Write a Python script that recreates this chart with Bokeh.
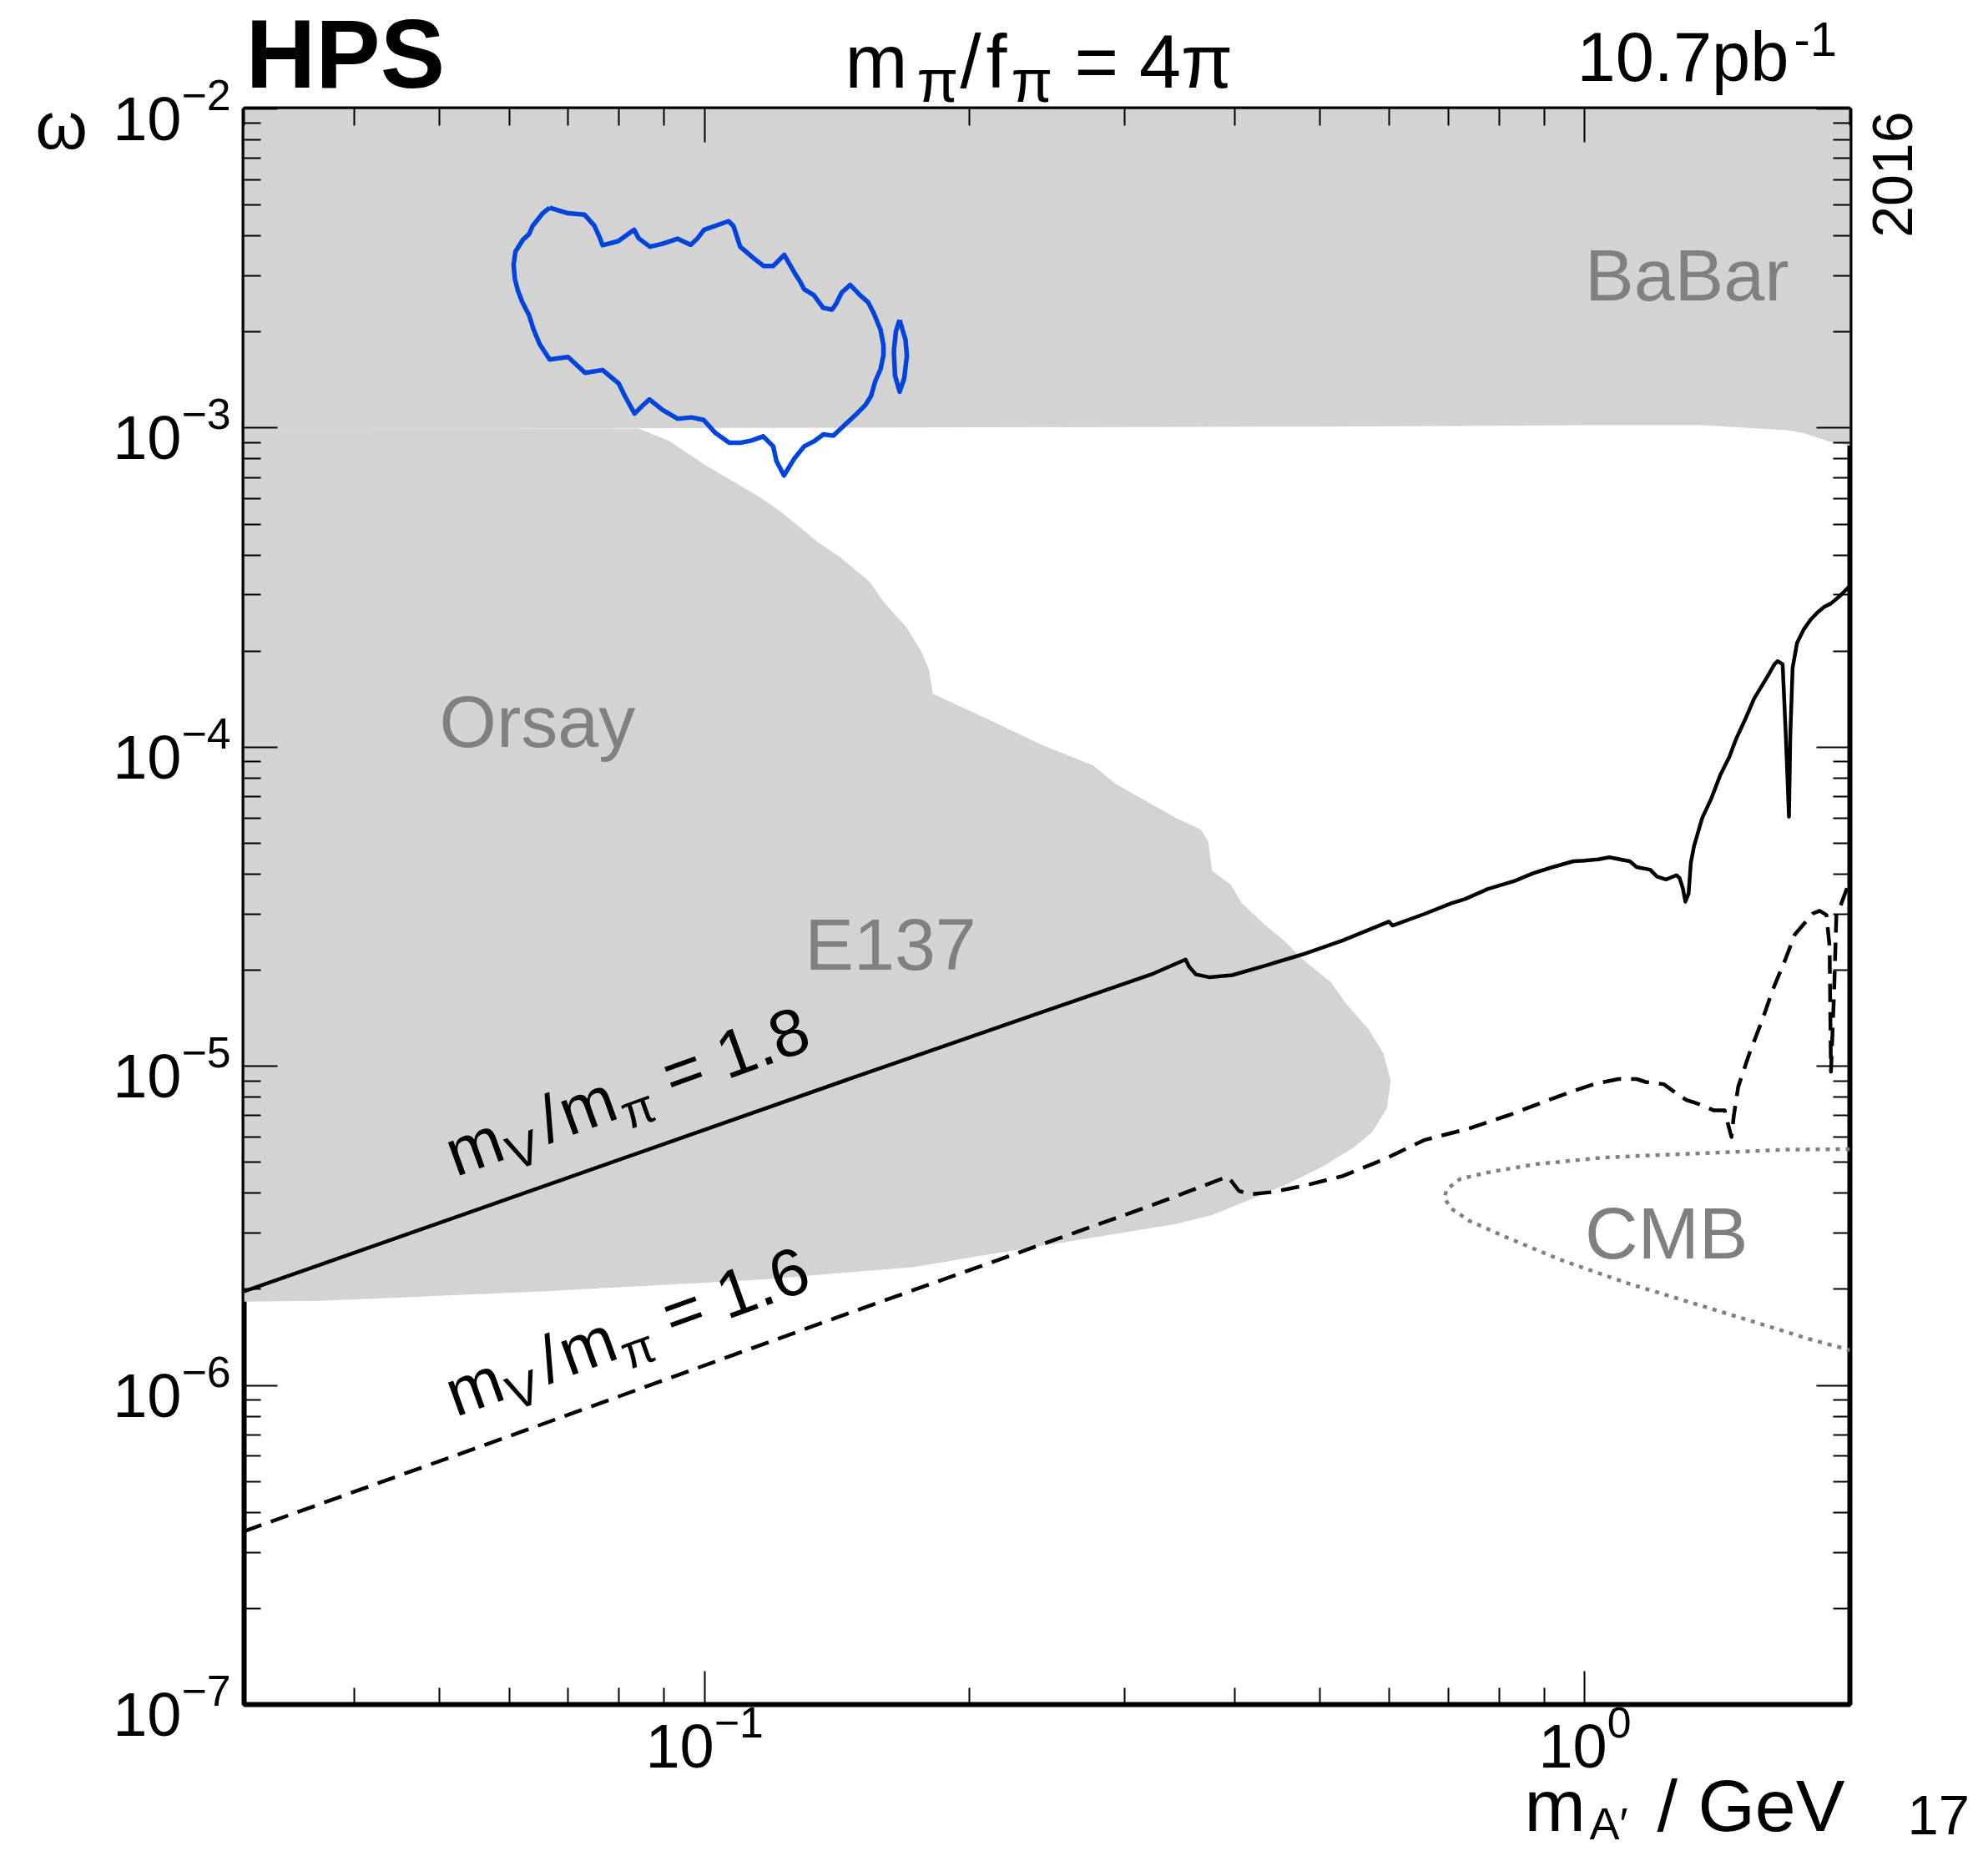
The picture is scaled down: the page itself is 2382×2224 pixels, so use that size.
import math
from bokeh.plotting import figure
from bokeh.models import Range1d, LogAxis, FixedTicker, Label, CustomJSTickFormatter
from bokeh.core.properties import value
from bokeh.embed import file_html
from bokeh.resources import INLINE

FONT = "Liberation Sans"

# ---------------- data ----------------
x_range = (0.03, 2.0)
y_range = (1e-7, 1e-2)
x_major_ticks = [0.1, 1.0]
y_major_ticks = [1e-7, 1e-6, 1e-5, 1e-4, 1e-3, 1e-2]

# BaBar excluded region (lower edge; top closes at y = 1e-2)
babar_x = [0.03, 0.0842, 0.5, 1.0, 1.36, 1.70, 1.77, 1.89, 2.0]
babar_y = [1.0e-3, 1.0e-3, 1.01e-3, 1.02e-3, 1.02e-3, 9.84e-4, 9.65e-4, 9.09e-4, 8.8e-4]

# Orsay + E137 excluded region (outline)
orsay_e137_x = [0.03, 0.0842, 0.0911, 0.1003, 0.1150, 0.1219, 0.1344, 0.1425, 0.1540,
                0.1601, 0.1697, 0.1764, 0.1800, 0.1817, 0.2103, 0.2410, 0.2762, 0.2928,
                0.3421, 0.3663, 0.3736, 0.3772, 0.3960, 0.4076, 0.4321, 0.4581, 0.4764,
                0.5150, 0.5355, 0.5675, 0.5902, 0.6018, 0.5960, 0.5731, 0.5460, 0.5050,
                0.4581, 0.4076, 0.3772, 0.3421, 0.2816, 0.2103, 0.1731, 0.1173, 0.0654,
                0.0365, 0.03]
orsay_e137_y = [1.0e-3, 9.96e-4, 9.12e-4, 7.64e-4, 6.13e-4, 5.49e-4, 4.40e-4, 3.94e-4, 3.30e-4,
                2.83e-4, 2.37e-4, 1.99e-4, 1.74e-4, 1.47e-4, 1.22e-4, 1.02e-4, 8.78e-5, 7.69e-5,
                6.03e-5, 5.52e-5, 5.05e-5, 4.09e-5, 3.71e-5, 3.25e-5, 2.79e-5, 2.44e-5, 2.18e-5,
                1.83e-5, 1.57e-5, 1.31e-5, 1.10e-5, 9.03e-6, 7.40e-6, 6.21e-6, 5.56e-6, 4.87e-6,
                4.26e-6, 3.73e-6, 3.42e-6, 3.20e-6, 2.93e-6, 2.57e-6, 2.35e-6, 2.15e-6, 1.97e-6,
                1.84e-6, 1.83e-6]

# HPS 2016 contour (blue)
hps_x = [0.0667, 0.0700, 0.0731, 0.0750, 0.0761, 0.0766, 0.0798, 0.0832, 0.0842, 0.0867,
         0.0896, 0.0932, 0.0965, 0.0982, 0.0999, 0.1065, 0.1079, 0.1098, 0.1135, 0.1167,
         0.1197, 0.1232, 0.1266, 0.1284, 0.1298, 0.1331, 0.1364, 0.1396, 0.1411, 0.1432,
         0.1464, 0.1502, 0.1534, 0.1557, 0.1585, 0.1597, 0.1597, 0.1585, 0.1563, 0.1546,
         0.1523, 0.1485, 0.1442, 0.1401, 0.1365, 0.1331, 0.1298, 0.1266, 0.1231, 0.1207,
         0.1197, 0.1166, 0.1131, 0.1098, 0.1067, 0.1029, 0.0998, 0.0967, 0.0932, 0.0896,
         0.0866, 0.0849, 0.0833, 0.0812, 0.0799, 0.0766, 0.0732, 0.0700, 0.0667, 0.0650,
         0.0639, 0.0632, 0.0621, 0.0614, 0.0609, 0.0607, 0.0610, 0.0622, 0.0632, 0.0638,
         0.0655, 0.0667]
hps_y = [4.90e-3, 4.71e-3, 4.66e-3, 4.30e-3, 3.93e-3, 3.74e-3, 3.85e-3, 4.18e-3, 3.93e-3, 3.70e-3,
         3.78e-3, 3.92e-3, 3.75e-3, 3.93e-3, 4.18e-3, 4.45e-3, 4.29e-3, 3.70e-3, 3.42e-3, 3.22e-3,
         3.22e-3, 3.49e-3, 3.06e-3, 2.88e-3, 2.72e-3, 2.61e-3, 2.38e-3, 2.35e-3, 2.45e-3, 2.66e-3,
         2.81e-3, 2.61e-3, 2.48e-3, 2.29e-3, 2.03e-3, 1.82e-3, 1.69e-3, 1.53e-3, 1.40e-3, 1.26e-3,
         1.18e-3, 1.10e-3, 1.02e-3, 9.46e-4, 9.55e-4, 9.08e-4, 8.76e-4, 8.05e-4, 7.10e-4, 7.89e-4,
         8.76e-4, 9.42e-4, 9.14e-4, 8.99e-4, 8.99e-4, 9.65e-4, 1.06e-3, 1.08e-3, 1.07e-3, 1.14e-3,
         1.23e-3, 1.17e-3, 1.11e-3, 1.26e-3, 1.38e-3, 1.52e-3, 1.49e-3, 1.67e-3, 1.64e-3, 1.83e-3,
         2.05e-3, 2.26e-3, 2.48e-3, 2.69e-3, 2.94e-3, 3.25e-3, 3.57e-3, 3.89e-3, 4.05e-3, 4.30e-3,
         4.71e-3, 4.90e-3]
hps_island_x = [0.1666, 0.1692, 0.1698, 0.1686, 0.1666, 0.1646, 0.1641, 0.1650, 0.1666]
hps_island_y = [2.18e-3, 1.89e-3, 1.68e-3, 1.43e-3, 1.30e-3, 1.46e-3, 1.74e-3, 2.01e-3, 2.18e-3]

# reach curve m_V/m_pi = 1.8 (solid)
r18_x = [0.03, 0.1481, 0.3232, 0.3520, 0.3553, 0.3617, 0.3748, 0.3975, 0.4343, 0.4775,
         0.5310, 0.5989, 0.6046, 0.6570, 0.7053, 0.7306, 0.7751, 0.8321, 0.8724, 0.9146,
         0.9703, 0.9993, 1.0354, 1.0666, 1.1049, 1.1248, 1.1449, 1.1863, 1.2075, 1.2365,
         1.2706, 1.2811, 1.2918, 1.3008, 1.3117, 1.3195, 1.3305, 1.3590, 1.3916, 1.4249,
         1.4588, 1.4850, 1.5205, 1.5569, 1.5849, 1.6133, 1.6422, 1.6558, 1.6774, 1.6914,
         1.7055, 1.7115, 1.7218, 1.7418, 1.7730, 1.8047, 1.8370, 1.8700, 1.9035, 1.9491,
         1.9840, 2.0]
r18_y = [1.97e-6, 9.25e-6, 1.95e-5, 2.16e-5, 2.05e-5, 1.94e-5, 1.90e-5, 1.93e-5, 2.07e-5, 2.24e-5,
         2.48e-5, 2.84e-5, 2.76e-5, 3.00e-5, 3.24e-5, 3.34e-5, 3.59e-5, 3.81e-5, 4.02e-5, 4.19e-5,
         4.39e-5, 4.41e-5, 4.45e-5, 4.52e-5, 4.43e-5, 4.39e-5, 4.21e-5, 4.13e-5, 3.93e-5, 3.85e-5,
         3.97e-5, 3.89e-5, 3.62e-5, 3.28e-5, 3.48e-5, 4.34e-5, 4.90e-5, 5.99e-5, 6.89e-5, 8.17e-5,
         9.31e-5, 1.06e-4, 1.22e-4, 1.42e-4, 1.54e-4, 1.67e-4, 1.82e-4, 1.86e-4, 1.82e-4, 1.09e-4,
         6.05e-5, 1.09e-4, 1.77e-4, 2.12e-4, 2.34e-4, 2.51e-4, 2.64e-4, 2.75e-4, 2.82e-4, 2.98e-4,
         3.13e-4, 3.2e-4]

# reach curve m_V/m_pi = 1.6 (dashed)
r16_x = [0.03, 0.0625, 0.1481, 0.3232, 0.3927, 0.3975, 0.4046, 0.4168, 0.4395, 0.4775,
         0.5310, 0.5904, 0.6570, 0.7392, 0.8223, 0.8828, 0.9703, 1.0295, 1.0920, 1.1449,
         1.1724, 1.2290, 1.2735, 1.3040, 1.3508, 1.3996, 1.4417, 1.4537, 1.4675, 1.4760,
         1.4937, 1.5383, 1.5941, 1.6324, 1.6914, 1.7319, 1.7730, 1.8155, 1.848, 1.8812,
         1.8967, 1.9035, 1.9193, 1.9309, 1.949, 1.991]
r16_y = [3.49e-7, 7.22e-7, 1.71e-6, 3.68e-6, 4.51e-6, 4.34e-6, 4.07e-6, 3.97e-6, 4.03e-6, 4.21e-6,
         4.53e-6, 5.10e-6, 5.87e-6, 6.39e-6, 7.05e-6, 7.60e-6, 8.37e-6, 8.83e-6, 9.12e-6, 9.12e-6,
         8.93e-6, 8.79e-6, 8.19e-6, 7.84e-6, 7.60e-6, 7.28e-6, 7.28e-6, 6.61e-6, 6.00e-6, 6.97e-6,
         8.64e-6, 1.10e-5, 1.42e-5, 1.72e-5, 2.18e-5, 2.59e-5, 2.79e-5, 3.01e-5, 3.07e-5, 2.98e-5,
         2.37e-5, 9.62e-6, 1.72e-5, 3.01e-5, 3.15e-5, 3.70e-5]

# CMB bound (dotted)
cmb_x = [2.0, 1.691, 1.335, 1.054, 0.8828, 0.7843, 0.7222, 0.6967, 0.6926, 0.7053, 0.7392,
         0.8126, 0.9365, 1.1181, 1.3354, 1.5941, 1.7940, 2.0]
cmb_y = [5.50e-6, 5.48e-6, 5.33e-6, 5.18e-6, 4.94e-6, 4.68e-6, 4.44e-6, 4.11e-6, 3.86e-6, 3.58e-6,
         3.28e-6, 2.92e-6, 2.48e-6, 2.09e-6, 1.80e-6, 1.55e-6, 1.40e-6, 1.29e-6]

# region labels (text, x, y)
region_labels = [("BaBar", 1.0, 2.5e-3), ("Orsay", 0.05, 1.0e-4),
                 ("E137", 0.13, 2.0e-5), ("CMB", 1.0, 2.5e-6)]
curve_labels = [("1.8", 0.0522, 4.48e-6), ("1.6", 0.0522, 7.92e-7)]

# ---------------- figure ----------------
W, H = 2374, 2216
BL, BR, BT, BB = 292, 158, 130, 174
FW, FH = W - BL - BR, H - BT - BB
K = 0.35  # baseline correction (fraction of font size)

p = figure(width=W, height=H, x_axis_type="log", y_axis_type="log",
           x_range=Range1d(*x_range), y_range=Range1d(*y_range),
           output_backend="svg", toolbar_location=None,
           min_border_left=BL, min_border_right=BR, min_border_top=BT, min_border_bottom=BB)
p.grid.visible = False
p.outline_line_color = "black"
p.outline_line_width = 6
p.background_fill_color = "white"
p.border_fill_color = "white"

x_minor = [k * 0.01 for k in range(3, 10)] + [k * 0.1 for k in range(2, 10)] + [2.0]
y_minor = [k * 10.0 ** e for e in range(-7, -2) for k in range(2, 10)]
xt = FixedTicker(ticks=x_major_ticks, minor_ticks=x_minor)
yt = FixedTicker(ticks=y_major_ticks, minor_ticks=y_minor)


def style_axis(ax, ticker, standoff):
    ax.ticker = ticker
    ax.major_tick_in = 40
    ax.major_tick_out = 0
    ax.minor_tick_in = 20
    ax.minor_tick_out = 0
    ax.major_tick_line_width = 2
    ax.minor_tick_line_width = 2
    ax.major_tick_line_color = "black"
    ax.minor_tick_line_color = "black"
    ax.axis_line_color = None
    ax.major_label_text_font = FONT
    ax.major_label_text_font_size = "74px"
    ax.major_label_text_color = "black"
    ax.major_label_standoff = standoff


style_axis(p.xaxis[0], xt, 0)
style_axis(p.yaxis[0], yt, 16)

top = LogAxis(formatter=CustomJSTickFormatter(code="return ''"))
style_axis(top, xt, 0)
p.add_layout(top, "above")
right = LogAxis(formatter=CustomJSTickFormatter(code="return ''"))
style_axis(right, yt, 0)
p.add_layout(right, "right")

# regions
p.patch(babar_x + [x_range[1], x_range[0]], babar_y + [y_range[1], y_range[1]],
        fill_color="#d3d3d3", line_color=None)
p.patch(orsay_e137_x, orsay_e137_y, fill_color="#d3d3d3", line_color=None)

# curves
p.line(cmb_x, cmb_y, line_color="#808080", line_width=4.5, line_dash="5 7")
p.line(r16_x, r16_y, line_color="black", line_width=4.5, line_dash="22 12", line_join="round")
p.line(r18_x, r18_y, line_color="black", line_width=4.5, line_join="round")
p.line(hps_x, hps_y, line_color="#0044dd", line_width=5.5, line_join="round")
p.line(hps_island_x, hps_island_y, line_color="#0044dd", line_width=5.5, line_join="round")


def lab(text, x, y, dx=0, dy=0, size=88, color="black", angle=0):
    th = math.radians(angle)
    dx = dx - K * size * math.sin(th)
    dy = dy + K * size * math.cos(th)
    p.add_layout(Label(x=x, y=y, x_offset=dx, y_offset=dy, text=text, text_font=FONT,
                       text_font_size=f"{size}px", text_color=color, angle=angle,
                       angle_units="deg", text_align="left", text_baseline="alphabetic"))


for t, lx, ly in region_labels:
    lab(t, lx, ly, size=88, color="#808080")

# rotated curve labels  m_V/m_pi = value
ANG = 19.8
c, s = math.cos(math.radians(ANG)), math.sin(math.radians(ANG))
for val, lx, ly in curve_labels:
    pieces = [("m", 0, 0, 80), ("V", 68, -16, 58), ("/", 118, 0, 80), ("m", 144, 0, 80),
              ("π", 213, -16, 58), ("= " + val, 276, 0, 80)]
    for t, a, n, size in pieces:
        lab(t, lx, ly, dx=a * c - n * s, dy=a * s + n * c, size=size, angle=ANG)

# texts outside the frame: positions given in pixels from the frame's top-left corner
LX0, LX1 = math.log10(x_range[0]), math.log10(x_range[1])
LY0, LY1 = math.log10(y_range[0]), math.log10(y_range[1])


def outside(text, px, py, size, style="normal", angle=0, align="left"):
    th = math.radians(angle)
    px = px - K * size * math.sin(th)
    py = py - K * size * math.cos(th)
    x = 10 ** (LX0 + px / FW * (LX1 - LX0))
    y = 10 ** (LY1 - py / FH * (LY1 - LY0))
    p.text(x=[x], y=[y], text=[text], text_font=value(FONT), text_font_size=value(f"{size}px"),
           text_font_style=value(style), text_color="black", text_align=value(align),
           text_baseline=value("alphabetic"), angle=angle, angle_units="deg", level="overlay")


outside("HPS", 2, -25, 116, style="bold")
outside("ω", -250, 48, 80)
outside("m", 720, -25, 90)
outside("π", 806, -8, 72)
outside("/", 858, -25, 90)
outside("f", 889, -25, 90)
outside("π", 919, -8, 72)
outside("= 4π", 995, -25, 90)
outside("10.7pb", 1597, -33, 83)
outside("-1", 1857, -63, 58)
outside("2016", 1999, 3, 68, angle=90, align="right")
outside("m", 1534, 2064, 88)
outside("A′", 1612, 2073, 54)
outside("/ GeV", 1693, 2064, 88)
outside("17", 1993, 2068, 67)

open("out.html", "w").write(file_html(p, INLINE))
